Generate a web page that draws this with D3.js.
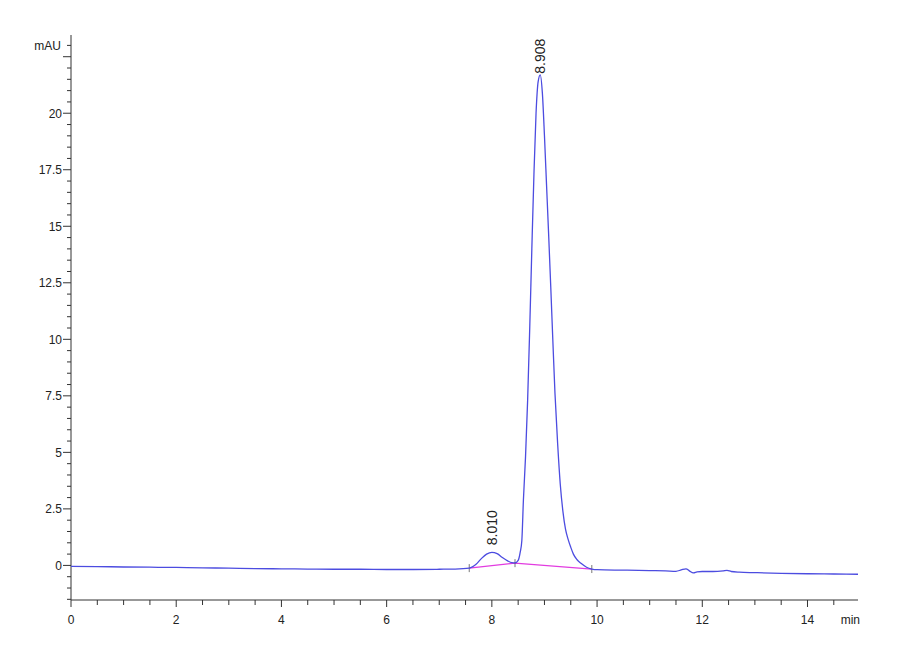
<!DOCTYPE html>
<html>
<head>
<meta charset="utf-8">
<script src="https://cdn.jsdelivr.net/npm/d3@7"></script>
<style>
  body { margin: 0; background: #fff; }
  .tick-label { font-family: "Liberation Sans", Arial, sans-serif; font-size: 12px; fill: #222; }
  .peak-label { font-family: "Liberation Sans", Arial, sans-serif; font-size: 14px; fill: #222; }
</style>
</head>
<body>
<script>
// retention time (min) and signal (mAU)
const times = [0, 0.5, 1, 1.5, 2, 2.5, 3, 3.5, 4, 4.5, 5, 5.5, 6, 6.5, 7, 7.3, 7.57,
  7.7, 7.8, 7.9, 8.0, 8.1, 8.2, 8.3, 8.38, 8.44,
  8.5, 8.54, 8.57, 8.6, 8.64, 8.68, 8.72, 8.76, 8.8, 8.84, 8.88, 8.92, 8.96, 9.0,
  9.04, 9.08, 9.12, 9.16, 9.2, 9.25, 9.3, 9.35, 9.4, 9.45, 9.5, 9.55, 9.62, 9.7, 9.8, 9.9,
  10.0, 10.5, 11.0, 11.3, 11.5, 11.6, 11.69, 11.76, 11.83, 11.9, 12.0, 12.2, 12.4, 12.47,
  12.55, 12.7, 13.0, 13.5, 14.0, 14.5, 14.96];
const signal = [-0.04, -0.05, -0.07, -0.08, -0.09, -0.11, -0.12, -0.14, -0.15, -0.16, -0.17, -0.17, -0.18, -0.18, -0.17, -0.16, -0.12,
  0.05, 0.3, 0.5, 0.58, 0.52, 0.35, 0.2, 0.12, 0.11,
  0.22, 0.6, 1.1, 2.9, 4.8, 7.3, 10.5, 14.0, 17.3, 20.0, 21.4, 21.7, 20.9, 19.0,
  16.8, 14.6, 12.3, 9.9, 7.6, 5.4, 3.6, 2.4, 1.6, 1.15, 0.8, 0.5, 0.25, 0.08, -0.08, -0.16,
  -0.19, -0.21, -0.23, -0.24, -0.26, -0.2, -0.15, -0.25, -0.33, -0.29, -0.27, -0.27, -0.24, -0.22,
  -0.27, -0.3, -0.32, -0.35, -0.37, -0.38, -0.39];

// integration baseline points (start, valley, end)
const baseTimes = [7.57, 8.44, 9.9];
const baseValues = [-0.12, 0.1, -0.16];

// peak labels
const peakTimes = [8.01, 8.908];
const peakTops = [0.58, 21.7];
const peakNames = ["8.010", "8.908"];

const xMajor = [0, 2, 4, 6, 8, 10, 12, 14];
const yMajor = [0, 2.5, 5, 7.5, 10, 12.5, 15, 17.5, 20];
const yLabels = ["0", "2.5", "5", "7.5", "10", "12.5", "15", "17.5", "20"];

const W = 900, H = 660;
const x = d3.scaleLinear().domain([0, 14.96]).range([71, 858]);
const y = d3.scaleLinear().domain([-1.53, 23.46]).range([600, 35]);

const svg = d3.select('body').append('svg')
  .attr('width', W)
  .attr('height', H);

// axes lines
const axisColor = '#333';
svg.append('line')
  .attr('x1', x(0)).attr('x2', x(0))
  .attr('y1', y.range()[1]).attr('y2', y.range()[0])
  .attr('stroke', axisColor)
svg.append('line')
  .attr('x1', x(0)).attr('x2', x.range()[1])
  .attr('y1', y.range()[0]).attr('y2', y.range()[0])
  .attr('stroke', axisColor)

// x ticks
const xMinor = d3.range(0, 15, 0.5)
svg.append('g').selectAll('line')
  .data(xMinor)
  .join('line')
  .attr('x1', d => x(d)).attr('x2', d => x(d))
  .attr('y1', y.range()[0])
  .attr('y2', d => y.range()[0] + (d % 2 === 0 ? 7 : 5))
  .attr('stroke', axisColor)

svg.append('g').selectAll('text')
  .data(xMajor)
  .join('text')
  .attr('class', 'tick-label')
  .attr('x', d => x(d))
  .attr('y', 624)
  .attr('text-anchor', 'middle')
  .text(d => d)

svg.append('text')
  .attr('class', 'tick-label')
  .attr('x', 860)
  .attr('y', 624)
  .attr('text-anchor', 'end')
  .text('min')

// y ticks
const yMinor = d3.range(-1.5, 23.01, 0.5)
svg.append('g').selectAll('line')
  .data(yMinor)
  .join('line')
  .attr('y1', d => y(d)).attr('y2', d => y(d))
  .attr('x1', d => x(0) - (d >= 0 && d % 2.5 === 0 ? 8 : 4))
  .attr('x2', x(0))
  .attr('stroke', axisColor)

svg.append('g').selectAll('text')
  .data(yMajor)
  .join('text')
  .attr('class', 'tick-label')
  .attr('x', 62)
  .attr('y', d => y(d))
  .attr('dy', '0.38em')
  .attr('text-anchor', 'end')
  .text((d, i) => yLabels[i])

svg.append('text')
  .attr('class', 'tick-label')
  .attr('x', 61)
  .attr('y', y(23))
  .attr('dy', '0.38em')
  .attr('text-anchor', 'end')
  .text('mAU')

// integration baseline
const pts = times.map((t, i) => [t, signal[i]]);
const line = d3.line()
  .x(d => x(d[0]))
  .y(d => y(d[1]))

svg.append('path')
  .datum(baseTimes.map((t, i) => [t, baseValues[i]]))
  .attr('d', line)
  .attr('fill', 'none')
  .attr('stroke', '#e23ce0')
  .attr('stroke-width', 1.3)

// peak boundary marks
svg.append('g').selectAll('line')
  .data(baseTimes)
  .join('line')
  .attr('x1', d => x(d)).attr('x2', d => x(d))
  .attr('y1', (d, i) => y(baseValues[i]) - 4)
  .attr('y2', (d, i) => y(baseValues[i]) + 4)
  .attr('stroke', '#555')
  .attr('stroke-width', 0.8)

// chromatogram trace
svg.append('path')
  .datum(pts)
  .attr('d', line.curve(d3.curveMonotoneX))
  .attr('fill', 'none')
  .attr('stroke', '#4c4ce0')
  .attr('stroke-width', 1.3)

// peak labels, rotated
svg.append('g').selectAll('text')
  .data(peakTimes)
  .join('text')
  .attr('class', 'peak-label')
  .attr('transform', (d, i) => `translate(${x(d) + 5}, ${y(peakTops[i]) - (i === 0 ? 7 : 1)}) rotate(-90)`)
  .text((d, i) => peakNames[i])
</script>
</body>
</html>
